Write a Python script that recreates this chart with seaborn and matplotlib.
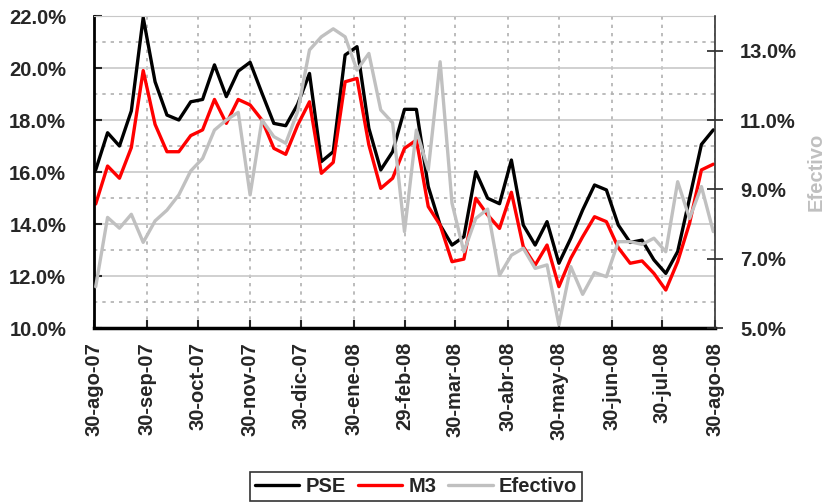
import numpy as np
import pandas as pd
import matplotlib
matplotlib.use('Agg')
import matplotlib.pyplot as plt
import seaborn as sns
from matplotlib.ticker import FuncFormatter, MultipleLocator

# Datos semanales (viernes) 31-ago-07 .. 29-ago-08, en %
fechas = pd.date_range('2007-08-31', '2008-08-29', freq='W-FRI')

pse = [16.08, 17.51, 17.0, 18.35, 21.94, 19.47, 18.19, 18.0, 18.7, 18.79,
       20.12, 18.9, 19.88, 20.22, 19.03, 17.87, 17.78, 18.6, 19.79, 16.4,
       16.78, 20.5, 20.82, 17.68, 16.08, 16.78, 18.41, 18.41, 15.44, 13.96,
       13.19, 13.51, 16.01, 14.99, 14.78, 16.46, 13.96, 13.19, 14.09, 12.49,
       13.45, 14.54, 15.5, 15.31, 13.96, 13.29, 13.38, 12.62, 12.1, 12.94,
       14.99, 17.06, 17.62]

m3 = [14.77, 16.23, 15.76, 16.94, 19.9, 17.83, 16.78, 16.78, 17.4, 17.62,
      18.79, 17.87, 18.79, 18.58, 18.0, 16.91, 16.68, 17.8, 18.7, 15.95,
      16.37, 19.47, 19.6, 17.04, 15.37, 15.76, 16.91, 17.23, 14.67, 13.96,
      12.55, 12.65, 14.99, 14.35, 13.83, 15.22, 13.13, 12.42, 13.19, 11.59,
      12.68, 13.51, 14.28, 14.09, 13.09, 12.49, 12.58, 12.1, 11.46, 12.55,
      14.03, 16.08, 16.3]

efectivo = [6.19, 8.19, 7.88, 8.28, 7.47, 8.09, 8.40, 8.84, 9.53, 9.89,
            10.71, 11.0, 11.22, 8.84, 11.0, 10.52, 10.33, 11.24, 13.02, 13.4,
            13.63, 13.4, 12.44, 12.92, 11.29, 10.92, 7.78, 10.71, 9.56, 12.68,
            8.6, 7.2, 8.16, 8.43, 6.52, 7.1, 7.3, 6.72, 6.82, 5.09,
            6.77, 5.97, 6.6, 6.48, 7.49, 7.49, 7.41, 7.59, 7.2, 9.22,
            8.16, 9.08, 7.78]

tick_fechas = ['2007-08-30', '2007-09-30', '2007-10-30', '2007-11-30', '2007-12-30',
               '2008-01-30', '2008-02-29', '2008-03-30', '2008-04-30', '2008-05-30',
               '2008-06-30', '2008-07-30', '2008-08-30']
tick_labels = ['30-ago-07', '30-sep-07', '30-oct-07', '30-nov-07', '30-dic-07',
               '30-ene-08', '29-feb-08', '30-mar-08', '30-abr-08', '30-may-08',
               '30-jun-08', '30-jul-08', '30-ago-08']
ticks_efectivo = [5, 7, 9, 11, 13]

df = pd.DataFrame({'fecha': fechas, 'PSE': pse, 'M3': m3, 'Efectivo': efectivo})

sns.set_style('white')
plt.rcParams['font.family'] = ['Liberation Sans', 'DejaVu Sans']
plt.rcParams['font.weight'] = 'bold'

fs = 14.5
fig = plt.figure(figsize=(8.32, 5.04), dpi=100)
ax = fig.add_axes([94 / 832, 1 - 328 / 504, (715 - 94) / 832, (328 - 16) / 504])
ax2 = ax.twinx()

lw = 2.4
sns.lineplot(data=df, x='fecha', y='PSE', ax=ax, color='black', lw=lw, label='PSE', legend=False)
sns.lineplot(data=df, x='fecha', y='M3', ax=ax, color='#ff0000', lw=lw, label='M3', legend=False)
sns.lineplot(data=df, x='fecha', y='Efectivo', ax=ax2, color='#c0c0c0', lw=lw, label='Efectivo', legend=False)

ax.set_xlim(pd.Timestamp('2007-08-30'), pd.Timestamp('2008-08-30'))
ax.set_ylim(10, 22)
ax2.set_ylim(5, 14)

ax.yaxis.set_major_locator(MultipleLocator(2))
ax.yaxis.set_minor_locator(MultipleLocator(1))
ax2.set_yticks(ticks_efectivo)
pct = FuncFormatter(lambda v, p: f'{v:.1f}%')
ax.yaxis.set_major_formatter(pct)
ax2.yaxis.set_major_formatter(pct)

ax.set_xticks(pd.to_datetime(tick_fechas))
ax.set_xticklabels(tick_labels, rotation=90, fontsize=fs, fontweight='bold')

ax.grid(axis='y', which='major', color='#c8c8c8', lw=1.2, ls='-')
ax.grid(axis='y', which='minor', color='#b0b0b0', lw=1.2, ls=(0, (2, 3)))
ax.grid(axis='x', which='major', color='#b0b0b0', lw=1.2, ls=(0, (2, 3)))
ax.set_axisbelow(True)
ax2.grid(False)

ax.tick_params(axis='y', which='major', direction='in', length=6, width=1.5,
               labelsize=fs, left=True, pad=20)
ax.tick_params(axis='y', which='minor', length=0)
ax.tick_params(axis='x', direction='in', length=6, width=1.5, bottom=True, pad=10)
ax2.tick_params(axis='y', direction='inout', length=12, width=1.2, right=True,
                labelsize=fs, pad=12)
for lab in ax.get_yticklabels() + ax2.get_yticklabels():
    lab.set_fontweight('bold')

ax.spines['left'].set_color('black')
ax.spines['left'].set_linewidth(2)
ax.spines['bottom'].set_color('black')
ax.spines['bottom'].set_linewidth(2.5)
ax.spines['top'].set_color('#c8c8c8')
ax.spines['right'].set_visible(False)
ax2.spines['top'].set_visible(False)
ax2.spines['left'].set_visible(False)
ax2.spines['bottom'].set_visible(False)
ax2.spines['right'].set_color('#333333')
ax2.spines['right'].set_linewidth(1.2)

ax.set_xlabel('')
ax.set_ylabel('')
ax2.set_ylabel('Efectivo', color='#c0c0c0', fontsize=fs, fontweight='bold', labelpad=7)

h1, l1 = ax.get_legend_handles_labels()
h2, l2 = ax2.get_legend_handles_labels()
leg = fig.legend(h1 + h2, l1 + l2, loc='center', bbox_to_anchor=(0.5, 0.034), ncol=3,
                 frameon=True, fancybox=False, edgecolor='black', handlelength=2.2,
                 handletextpad=0.3, columnspacing=0.6, borderpad=0.25,
                 prop={'weight': 'bold', 'size': fs})
leg.get_frame().set_linewidth(1.2)

fig.savefig('out.png', dpi=100)
